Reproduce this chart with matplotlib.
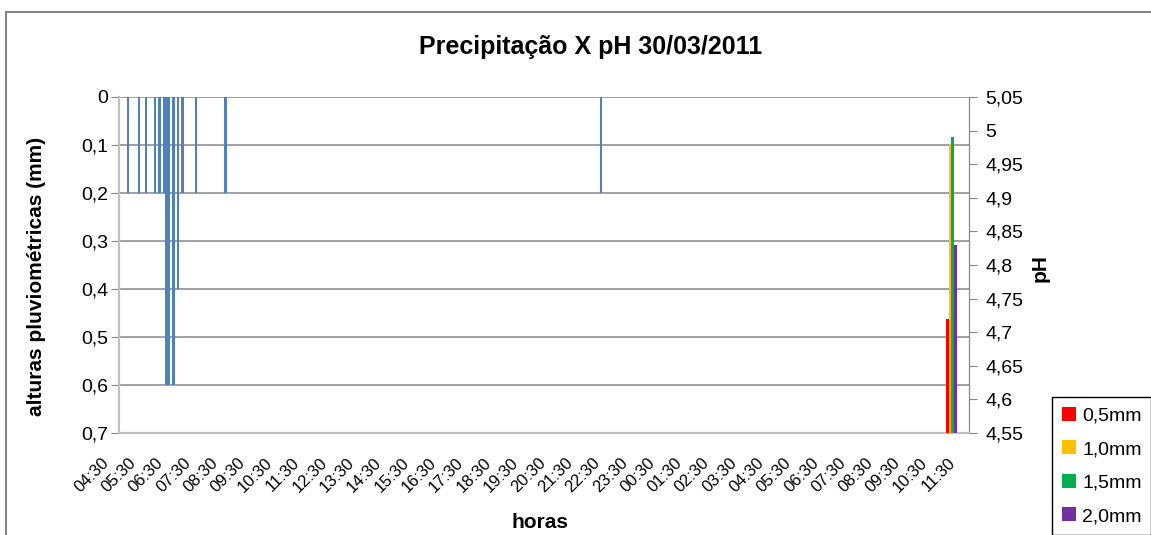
import matplotlib
matplotlib.use("Agg")
import matplotlib.pyplot as plt
from matplotlib.patches import Patch, Rectangle
from matplotlib.transforms import ScaledTranslation

plt.rcParams['font.family'] = ['Liberation Sans', 'DejaVu Sans']

# rain gauge readings (day 1)
rain_times = ["04:45", "05:10", "05:25", "05:45", "05:55", "06:05", "06:10",
              "06:15", "06:25", "06:35", "06:45", "07:15", "08:20", "22:05"]
rain_mm = [0.2, 0.2, 0.2, 0.2, 0.2, 0.2, 0.6, 0.6, 0.6, 0.4, 0.2, 0.2, 0.2, 0.2]

# pH per accumulated rain (day 2)
ph_time = "10:55"
ph_labels = ["0,5mm", "1,0mm", "1,5mm", "2,0mm"]
ph_values = [4.72, 4.98, 4.99, 4.83]
ph_colors = ["#FF0000", "#FFC000", "#00B050", "#7030A0"]

hour_labels = ["04:30", "05:30", "06:30", "07:30", "08:30", "09:30", "10:30", "11:30",
               "12:30", "13:30", "14:30", "15:30", "16:30", "17:30", "18:30", "19:30",
               "20:30", "21:30", "22:30", "23:30", "00:30", "01:30", "02:30", "03:30",
               "04:30", "05:30", "06:30", "07:30", "08:30", "09:30", "10:30", "11:30"]


def to_hours(t, day=0):
    hh, mm = t.split(":")
    return int(hh) + int(mm) / 60.0 + 24 * day


fig = plt.figure(figsize=(11.51, 5.35), dpi=100)
ax = fig.add_axes([0.1038, 0.1907, 0.7381, 0.6280])
ax2 = ax.twinx()

# chart outer border
fig.patches.append(Rectangle((6 / 1151, -0.1), 1.2, 1 - 12 / 535 + 0.1, transform=fig.transFigure,
                             fill=False, edgecolor="#868686", linewidth=1.5))

x_rain = [to_hours(t) for t in rain_times]
ax.bar(x_rain, rain_mm, width=0.095, color="#4F81BD", zorder=3)
ax.set_ylim(0.7, 0)
ax.set_yticks([0, 0.1, 0.2, 0.3, 0.4, 0.5, 0.6, 0.7])
ax.set_yticklabels(["0", "0,1", "0,2", "0,3", "0,4", "0,5", "0,6", "0,7"], fontsize=14)
ax.grid(axis="y", color="#868686", linewidth=1.1, zorder=0)
ax.set_axisbelow(True)

x_ticks = [4.5 + i for i in range(len(hour_labels))]
ax.set_xticks(x_ticks)
ax.set_xticklabels(hour_labels, rotation=45, ha="right", fontsize=12)
ax.set_xlim(4.445, 35.56)
ax.tick_params(axis="x", length=0, pad=16)
ax.tick_params(axis="y", length=6, color="#868686", pad=2)
for lbl in ax.get_xticklabels():
    lbl.set_transform(lbl.get_transform() + ScaledTranslation(-9.5 / 100, 0, fig.dpi_scale_trans))

x_ph = to_hours(ph_time, day=1)
w = 0.095
for i, (v, c, lab) in enumerate(zip(ph_values, ph_colors, ph_labels)):
    ax2.bar(x_ph + (i - 1.5) * w, v, width=w, color=c, label=lab, zorder=3)
ax2.set_ylim(4.55, 5.05)
ph_ticks = [4.55, 4.6, 4.65, 4.7, 4.75, 4.8, 4.85, 4.9, 4.95, 5.0, 5.05]
ax2.set_yticks(ph_ticks)
ax2.set_yticklabels(["4,55", "4,6", "4,65", "4,7", "4,75", "4,8", "4,85", "4,9", "4,95", "5", "5,05"],
                    fontsize=14)
ax2.tick_params(axis="y", length=6, color="#868686", pad=6)

for a in (ax, ax2):
    a.spines["top"].set_visible(False)
    a.spines["left"].set_color("#BFBFBF")
    a.spines["bottom"].set_color("#BFBFBF")
    a.spines["right"].set_color("#868686")
    a.spines["left"].set_linewidth(1.5)
    a.spines["bottom"].set_linewidth(1.5)

fig.text(0.513, 0.912, "Precipitação X pH 30/03/2011", ha="center", va="center",
         fontsize=18, fontweight="bold")
fig.text(36.5 / 1151, 1 - 276 / 535, "alturas pluviométricas (mm)", rotation=90,
         ha="center", va="center", fontsize=15, fontweight="bold")
fig.text(1040 / 1151, 1 - 268 / 535, "pH", rotation=90,
         ha="center", va="center", fontsize=15, fontweight="bold")
fig.text(540 / 1151, 1 - 522 / 535, "horas", ha="center", va="center",
         fontsize=15, fontweight="bold")

handles = [Patch(facecolor=c, edgecolor="none") for c in ph_colors]
fig.legend(handles, ph_labels, loc="upper left", bbox_to_anchor=(1052 / 1151, 1 - 397 / 535),
           fontsize=14, frameon=True, fancybox=False, edgecolor="black", framealpha=1,
           handlelength=0.75, handleheight=0.75, handletextpad=0.3, labelspacing=0.8,
           borderpad=0.5, borderaxespad=0)

fig.savefig("out.png", dpi=100)
